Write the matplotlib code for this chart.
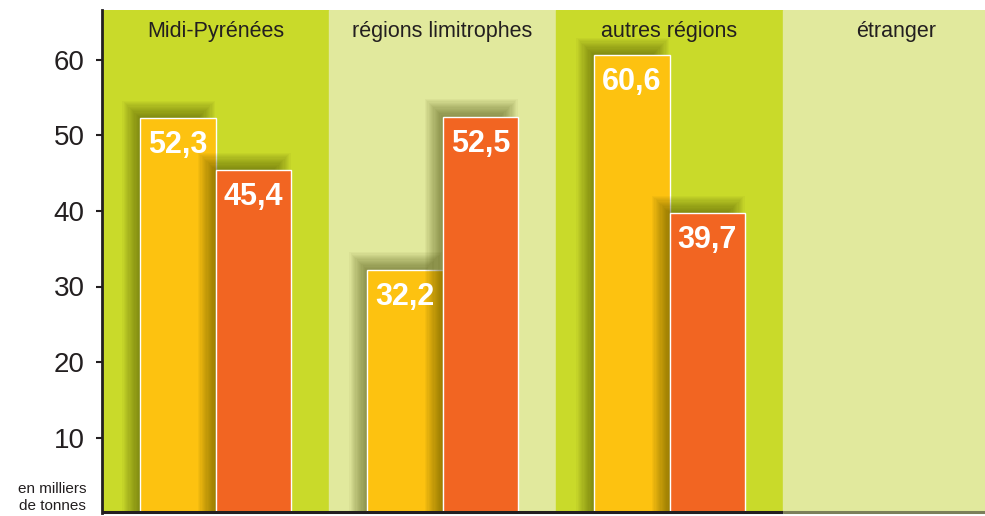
import matplotlib
matplotlib.use('Agg')
import matplotlib.pyplot as plt
from matplotlib.patches import Rectangle

# donnees (en milliers de tonnes)
categories = ['Midi-Pyrénées', 'régions limitrophes', 'autres régions', 'étranger']
serie_a = [52.3, 32.2, 60.6]   # jaune
serie_b = [45.4, 52.5, 39.7]   # orange
labels_a = ['52,3', '32,2', '60,6']
labels_b = ['45,4', '52,5', '39,7']
yticks = [10, 20, 30, 40, 50, 60]

JAUNE = '#fdc210'
ORANGE = '#f26522'
VERT = '#c9da2a'
VERT_PALE = '#e1e99d'
TEXTE = '#231f20'

plt.rcParams['font.family'] = ['Liberation Sans', 'DejaVu Sans']

fig = plt.figure(figsize=(9.85, 5.16), dpi=100)
ax = fig.add_axes([102 / 985, 3 / 516, 883 / 985, 503 / 516])
xmin, xmax = -0.5, -0.5 + 883 / 227
ymin, ymax = 0, 503 / 7.55
ax.set_xlim(xmin, xmax)
ax.set_ylim(ymin, ymax)

# pixels -> unites de donnees
px_x = (xmax - xmin) / 883
px_y = (ymax - ymin) / 503

# bandes de fond
for i, cat in enumerate(categories):
    ax.add_patch(Rectangle((i - 0.5, 0), 1, ymax, color=VERT if i % 2 == 0 else VERT_PALE, zorder=0))
    ax.text(i, ymax - 21 * px_y, cat, ha='center', va='center', fontsize=15.5, color=TEXTE, zorder=5)

w = 0.333


def ombre(x0, h, z):
    # ombre floue approximee par des rectangles empiles (vers la gauche et le haut)
    n = 14
    for k in range(n):
        e = k * 1.2
        gauche = x0 - (2 + e) * px_x
        droite = x0 + w - (16 - e) * px_x
        ax.add_patch(Rectangle((gauche, 0), droite - gauche, h + (2 + e) * px_y,
                               facecolor='#3f4200', edgecolor='none', alpha=0.045, zorder=z))


for i in range(len(serie_a)):
    xa = i - w
    xb = i
    ombre(xa, serie_a[i], 1)
    ax.bar(xa, serie_a[i], width=w, align='edge', color=JAUNE, edgecolor='white', linewidth=1, zorder=2)
    ombre(xb, serie_b[i], 3)
    ax.bar(xb, serie_b[i], width=w, align='edge', color=ORANGE, edgecolor='white', linewidth=1, zorder=4)
    ax.text(xa + w / 2, serie_a[i] - 12 * px_y, labels_a[i], ha='center', va='top', color='white',
            fontsize=22, fontweight='bold', zorder=6)
    ax.text(xb + w / 2, serie_b[i] - 12 * px_y, labels_b[i], ha='center', va='top', color='white',
            fontsize=22, fontweight='bold', zorder=6)

# axes
for s in ['top', 'right', 'bottom']:
    ax.spines[s].set_visible(False)
ax.spines['left'].set_linewidth(2)
ax.spines['left'].set_color(TEXTE)
ax.spines['left'].set_zorder(10)
ax.plot([xmin, 2.5], [0.1, 0.1], color=TEXTE, lw=2.2, zorder=10, clip_on=False, solid_capstyle='butt')
ax.plot([2.5, xmax], [0.1, 0.1], color='#7c7f5a', lw=2.2, zorder=10, clip_on=False, solid_capstyle='butt')

ax.set_xticks([])
ax.set_yticks(yticks)
ax.set_yticklabels([str(t) for t in yticks])
ax.tick_params(axis='y', length=4.5, width=1.5, pad=8, labelsize=20, colors=TEXTE)

fig.text(86 / 985, 1 - 489 / 516, 'en milliers', ha='right', va='center', fontsize=11, color=TEXTE)
fig.text(86 / 985, 1 - 506 / 516, 'de tonnes', ha='right', va='center', fontsize=11, color=TEXTE)

fig.savefig('out.png', dpi=100)
